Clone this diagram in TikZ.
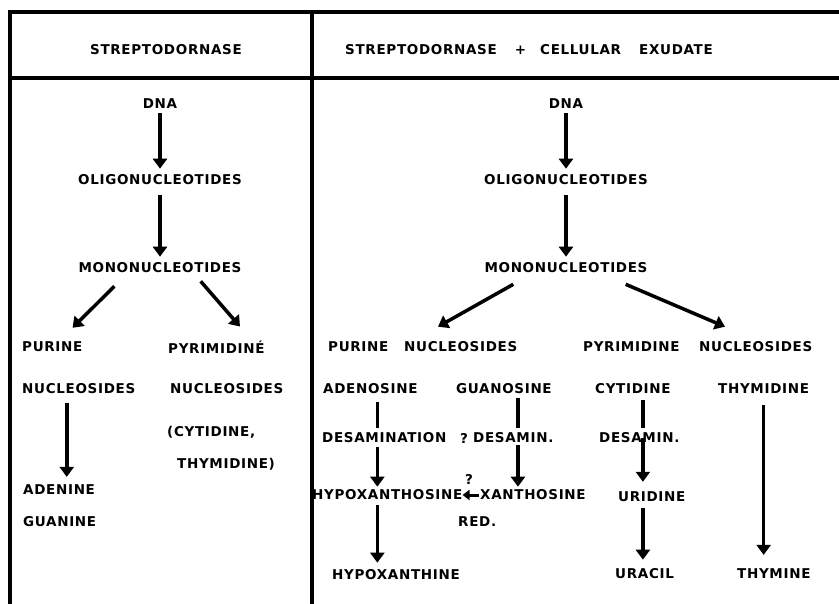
\documentclass[tikz,border=0pt]{standalone}
\usepackage{fontspec}
\setmainfont{DejaVu Sans}
\newfontfamily\chartfont{DejaVu Sans Bold}[LetterSpace=5]
\usetikzlibrary{arrows.meta}

\tikzset{
  lbl/.style={inner sep=0pt, font=\chartfont\fontsize{13.5}{15}\selectfont},
  arr/.style={line width=3.5pt, -{Triangle[width=14pt,length=10pt]}},
  stem/.style={line width=3.5pt},
  rule/.style={line width=3.5pt},
}

\begin{document}
\begin{tikzpicture}[x=1pt,y=-1pt]
    \useasboundingbox (0,0) rectangle (839,604);

    % --- frame: open on the right and at the bottom ---
    \draw[rule] (8,12) -- (839,12);
    \draw[rule] (8,78) -- (839,78);
    \draw[rule] (10,10.25) -- (10,604);
    \draw[rule] (312,10.25) -- (312,604);

    % --- headers ---
    \node[lbl] (headL) at (166,50) {STREPTODORNASE};
    \node[lbl, anchor=west] (headR) at (345,50) {STREPTODORNASE\hspace{18pt}+\hspace{14pt}CELLULAR\hspace{18pt}EXUDATE};

    % --- left column: streptodornase alone ---
    \node[lbl] (dnaL) at (160,104) {DNA};
    \node[lbl] (oliL) at (160,180) {OLIGONUCLEOTIDES};
    \node[lbl] (monoL) at (160,268) {MONONUCLEOTIDES};
    \node[lbl, anchor=west] (purL) at (22,347) {PURINE};
    \node[lbl, anchor=west] (pyrL) at (168,347) {PYRIMIDINÉ};
    \node[lbl, anchor=west] (nucL1) at (22,389) {NUCLEOSIDES};
    \node[lbl, anchor=west] (nucL2) at (170,389) {NUCLEOSIDES};
    \node[lbl, anchor=west] (cytL) at (167,432) {(CYTIDINE,};
    \node[lbl, anchor=west] (thyL) at (177,464) {THYMIDINE)};
    \node[lbl, anchor=west] (adeL) at (23,490) {ADENINE};
    \node[lbl, anchor=west] (guaL) at (23,522) {GUANINE};

    \draw[arr, shorten <=4pt, shorten >=6pt] (dnaL) -- (oliL);
    \draw[arr, shorten <=10pt, shorten >=6pt] (oliL) -- (monoL);
    \draw[arr] ([shift={(36,13)}]monoL.south west) -- ([shift={(-10,-14)}]purL.north east);
    \draw[arr] ([shift={(-41,8)}]monoL.south east) -- ([shift={(72,-14)}]pyrL.north west);
    \draw[arr, shorten <=9pt, shorten >=8pt] ([xshift=-12pt]nucL1.south) -- ([xshift=-12pt]nucL1.south |- adeL.north);

    % --- right column: streptodornase + cellular exudate ---
    \node[lbl] (dnaR) at (566,104) {DNA};
    \node[lbl] (oliR) at (566,180) {OLIGONUCLEOTIDES};
    \node[lbl] (monoR) at (566,268) {MONONUCLEOTIDES};
    \node[lbl, anchor=west] (purR) at (328,347) {PURINE};
    \node[lbl, anchor=west] (nucR1) at (404,347) {NUCLEOSIDES};
    \node[lbl, anchor=west] (pyrR) at (583,347) {PYRIMIDINE};
    \node[lbl, anchor=west] (nucR2) at (699,347) {NUCLEOSIDES};

    \node[lbl, anchor=west] (adenosine) at (323,389) {ADENOSINE};
    \node[lbl, anchor=west] (guanosine) at (456,389) {GUANOSINE};
    \node[lbl, anchor=west] (cytidine) at (595,389) {CYTIDINE};
    \node[lbl, anchor=west] (thymidine) at (718,389) {THYMIDINE};

    \node[lbl, anchor=west] (desam) at (322,438) {DESAMINATION};
    \node[lbl, anchor=west] (qG) at (460,438) {?};
    \node[lbl, anchor=west] (desamG) at (473,438) {DESAMIN.};
    \node[lbl, anchor=west] (desamC) at (599,438) {DESAMIN.};

    \node[lbl, anchor=west] (hypoxs) at (312,495) {HYPOXANTHOSINE};
    \node[lbl, anchor=west] (xanth) at (480,495) {XANTHOSINE};
    \node[lbl, anchor=west] (uridine) at (618,497) {URIDINE};
    \node[lbl] (qR) at (469,479) {?};
    \node[lbl, anchor=west] (red) at (458,522) {RED.};

    \node[lbl, anchor=west] (hypoxine) at (332,575) {HYPOXANTHINE};
    \node[lbl, anchor=west] (uracil) at (615,574) {URACIL};
    \node[lbl, anchor=west] (thymine) at (737,574) {THYMINE};

    \draw[arr, shorten <=4pt, shorten >=6pt] (dnaR) -- (oliR);
    \draw[arr, shorten <=10pt, shorten >=6pt] (oliR) -- (monoR);
    \draw[arr] ([shift={(29,11)}]monoR.south west) -- ([shift={(34,-15)}]nucR1.north west);
    \draw[arr] ([shift={(-22,11)}]monoR.south east) -- ([shift={(26,-15)}]nucR2.north west);

    % adenosine branch
    \draw[stem, shorten <=8pt, shorten >=5pt] ([xshift=7pt]adenosine.south) -- ([xshift=7pt]adenosine.south |- desam.north);
    \draw[arr, shorten <=4pt, shorten >=3pt] ([xshift=7pt]adenosine.south |- desam.south) -- ([xshift=7pt]adenosine.south |- hypoxs.north);
    \draw[arr, shorten <=5pt, shorten >=7pt] ([xshift=7pt]adenosine.south |- hypoxs.south) -- ([xshift=7pt]adenosine.south |- hypoxine.north);

    % guanosine branch
    \draw[stem, shorten <=4pt, shorten >=5pt] ([xshift=14pt]guanosine.south) -- ([xshift=14pt]guanosine.south |- desamG.north);
    \draw[arr, shorten <=2pt, shorten >=3pt] ([xshift=14pt]guanosine.south |- desamG.south) -- ([xshift=14pt]guanosine.south |- xanth.north);
    \draw[line width=3pt, -{Triangle[width=10pt,length=7pt]}, shorten <=1pt] (xanth.west) -- (hypoxs.east);

    % cytidine branch
    \draw[stem, shorten <=6pt, shorten >=5pt] ([xshift=10pt]cytidine.south) -- ([xshift=10pt]cytidine.south |- desamC.north);
    \draw[arr, shorten >=10pt] ([xshift=10pt]cytidine.south |- desamC.center) -- ([xshift=10pt]cytidine.south |- uridine.north);
    \draw[arr, shorten <=6pt, shorten >=9pt] ([xshift=10pt]cytidine.south |- uridine.south) -- ([xshift=10pt]cytidine.south |- uracil.north);

    % thymidine branch
    \draw[arr, shorten <=11pt, shorten >=14pt] (thymidine.south) -- (thymidine.south |- thymine.north);
\end{tikzpicture}
\end{document}
